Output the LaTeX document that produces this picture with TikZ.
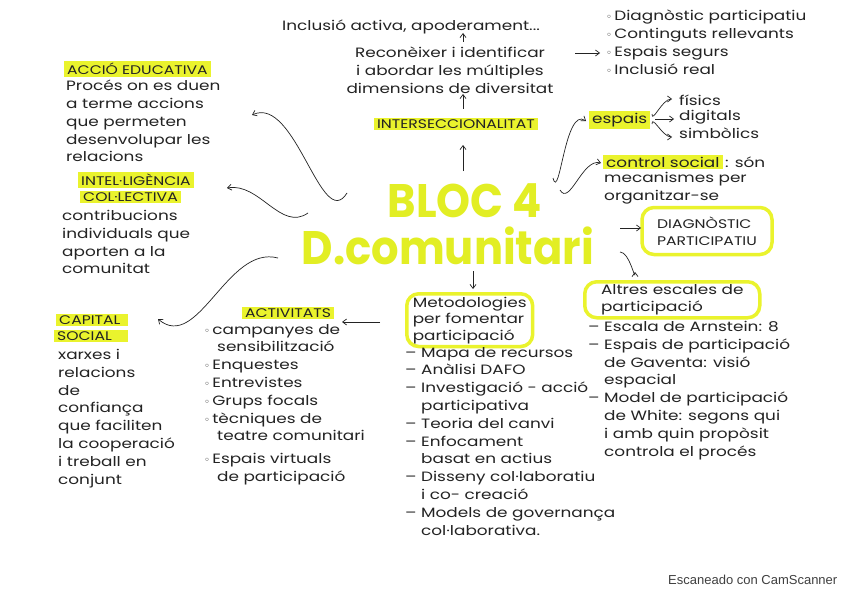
\documentclass[tikz,border=0pt]{standalone}
\usepackage{fontspec}
\setmainfont{Poppins}
\newfontfamily\handf{Poppins}[FakeStretch=1.25]
\newfontfamily\ttlf{Poppins}[FakeStretch=0.92]
\newfontfamily\symf{DejaVu Sans}
\newfontfamily\camf{Liberation Sans}
\usetikzlibrary{arrows.meta,calc}
\definecolor{hly}{RGB}{234,243,45}
\definecolor{ttl}{RGB}{226,238,36}
\definecolor{ink}{RGB}{35,35,35}
\newcommand\handtxt{\handf\fontsize{13.5}{17.8}\selectfont}
\newcommand\boxtxt{\handf\fontsize{13.5}{16.5}\selectfont}
\newcommand\capstxt{\handf\fontsize{12.5}{17}\selectfont}
\newcommand\ob{{\symf\fontsize{10}{10}\selectfont ◦}\,}
\begin{document}
\begin{tikzpicture}[x=1pt,y=-1pt,
  txt/.style={inner sep=0pt, align=left, anchor=north west, text=ink, font=\handtxt},
  lbl/.style={fill=hly, inner xsep=3pt, inner ysep=2pt, anchor=west, text=ink, font=\capstxt},
  arr/.style={draw=ink, line width=0.7pt, -{Straight Barb[length=4pt,width=6pt]}},
  ybox/.style={draw=hly, line width=3.5pt, rounded corners=12pt, text=ink, font=\boxtxt, align=left}]
\useasboundingbox (0,0) rectangle (848,599);
\fill[white] (0,0) rectangle (848,599);

% centre
\node[font=\ttlf\bfseries\fontsize{47}{50}\selectfont, text=ttl, inner sep=0pt] (title1) at (465,201) {BLOC 4};
\node[font=\ttlf\bfseries\fontsize{47}{50}\selectfont, text=ttl, inner sep=0pt] (title2) at (448,246) {D.comunitari};

% top
\node[txt, anchor=center] (inc) at (411,27) {Inclusió activa, apoderament...};
\node[txt, anchor=center, align=center] (rec) at (450,70) {Reconèixer i identificar\\i abordar les múltiples\\dimensions de diversitat};
\node[lbl, anchor=center] (inter) at (456,124) {INTERSECCIONALITAT};
\node[txt] (list1) at (606,10) {\ob Diagnòstic participatiu\\\ob Continguts rellevants\\\ob Espais segurs\\\ob Inclusió real};

% left
\node[lbl] (accio) at (64,69) {ACCIÓ EDUCATIVA};
\node[txt] (accioT) at (66,80) {Procés on es duen\\a terme accions\\que permeten\\desenvolupar les\\relacions};
\node[lbl] (intel1) at (78,180) {INTEL·LIGÈNCIA};
\node[lbl] (intel2) at (80,197) {COL·LECTIVA};
\node[txt] (intelT) at (62,210) {contribucions\\individuals que\\aporten a la\\comunitat};
\node[lbl, text width=66pt, align=left] (cap1) at (56,320) {CAPITAL};
\node[lbl, text width=68pt, align=left] (cap2) at (54,336) {SOCIAL};
\node[txt] (capT) at (58,349) {xarxes i\\relacions\\de\\confiança\\que faciliten\\la cooperació\\i treball en\\conjunt};

% activitats
\node[lbl, anchor=center] (act) at (288,313) {ACTIVITATS};
\node[txt] (actT) at (204,324) {\ob campanyes de\\\hspace*{13pt}sensibilització\\\ob Enquestes\\\ob Entrevistes\\\ob Grups focals\\\ob tècniques de\\\hspace*{13pt}teatre comunitari\\[5pt]\ob Espais virtuals\\\hspace*{13pt}de participació};

% metodologies
\node[ybox, anchor=north west, inner xsep=6pt, inner ysep=3pt] (met) at (405,292) {Metodologies\\per fomentar\\participació};
\node[txt] (metT) at (405,347) {– Mapa de recursos\\– Anàlisi DAFO\\– Investigació - acció\\\hspace*{16pt}participativa\\– Teoria del canvi\\– Enfocament\\\hspace*{16pt}basat en actius\\– Disseny col·laboratiu\\\hspace*{16pt}i co- creació\\– Models de governança\\\hspace*{16pt}col·laborativa.};

% right
\node[lbl, font=\handtxt] (espais) at (589,120) {espais};
\node[txt, anchor=west] (fis) at (679,100) {físics};
\node[txt, anchor=west] (dig) at (679,117) {digitals};
\node[txt, anchor=west] (sim) at (679,133) {simbòlics};
\node[lbl, font=\handtxt] (ctrl) at (603,162) {control social};
\node[txt, anchor=west] (ctrl2) at (ctrl.east) {\,: són};
\node[txt] (ctrlT) at (604,172) {mecanismes per\\organitzar-se};
\node[ybox, font=\capstxt, minimum width=130pt, minimum height=47pt, inner xsep=9pt, inner ysep=3pt] (diag) at (707,231) {DIAGNÒSTIC\\PARTICIPATIU};
\node[ybox, anchor=north west, minimum width=175pt, minimum height=36pt, inner xsep=8pt, inner ysep=2pt] (alt) at (583,280) {Altres escales de\\participació};
\node[txt] (altT) at (588,321) {– Escala de Arnstein: 8\\– Espais de participació\\\hspace*{16pt}de Gaventa: visió\\\hspace*{16pt}espacial\\– Model de participació\\\hspace*{16pt}de White: segons qui\\\hspace*{16pt}i amb quin propòsit\\\hspace*{16pt}controla el procés};

\node[anchor=west, inner sep=0pt, font=\camf\fontsize{13}{15}\selectfont, text=black!75] (cam) at (668,580) {Escaneado con CamScanner};

% connector end points
\coordinate (a4s) at (347,193); \coordinate (a4e) at (252,115);
\coordinate (a5s) at (308,213); \coordinate (a5e) at (227,188);
\coordinate (a6s) at (278,258); \coordinate (a6e) at (158,319);
\coordinate (a7s) at (380,322); \coordinate (a7e) at (342,322);
\coordinate (a8s) at (473,271); \coordinate (a8e) at (473,289);
\coordinate (aIs) at (463,171); \coordinate (aIe) at (463,145);
\coordinate (aRs) at (463,109); \coordinate (aRe) at (463,94);
\coordinate (aCs) at (463,42);  \coordinate (aCe) at (463,33);
\coordinate (aLs) at (575,53);  \coordinate (aLe) at (600,53);
\coordinate (a9s) at (553,178); \coordinate (a9e) at (586,121);
\coordinate (a10s) at (560,190); \coordinate (a10e) at (601,163);
\coordinate (a11s) at (652,114); \coordinate (a11e) at (672,99);
\coordinate (a12s) at (655,119); \coordinate (a12e) at (674,119);
\coordinate (a13s) at (652,124); \coordinate (a13e) at (672,137);
\coordinate (a14s) at (620,228); \coordinate (a14e) at (641,228);
\coordinate (a15s) at (620,252); \coordinate (a15e) at (635,272);

\draw[arr] (a4s) to[out=-122,in=25] (a4e);
\draw[arr] (a5s) to[out=-145,in=10] (a5e);
\draw[arr] (a6s) to[out=165,in=-40] (a6e);
\draw[arr] (a7s) -- (a7e);
\draw[arr] (a8s) -- (a8e);
\draw[arr] (aIs) -- (aIe);
\draw[arr] (aRs) -- (aRe);
\draw[arr] (aCs) -- (aCe);
\draw[arr] (aLs) -- (aLe);
\draw[arr] (a9s) to[out=-75,in=145] (a9e);
\draw[arr] (a10s) to[out=-60,in=165] (a10e);
\draw[arr] (a11s) to[out=-90,in=180] (a11e);
\draw[arr] (a12s) -- (a12e);
\draw[arr] (a13s) to[out=90,in=180] (a13e);
\draw[arr] (a14s) -- (a14e);
\draw[arr] (a15s) to[out=0,in=-90] (a15e);
\end{tikzpicture}
\end{document}
